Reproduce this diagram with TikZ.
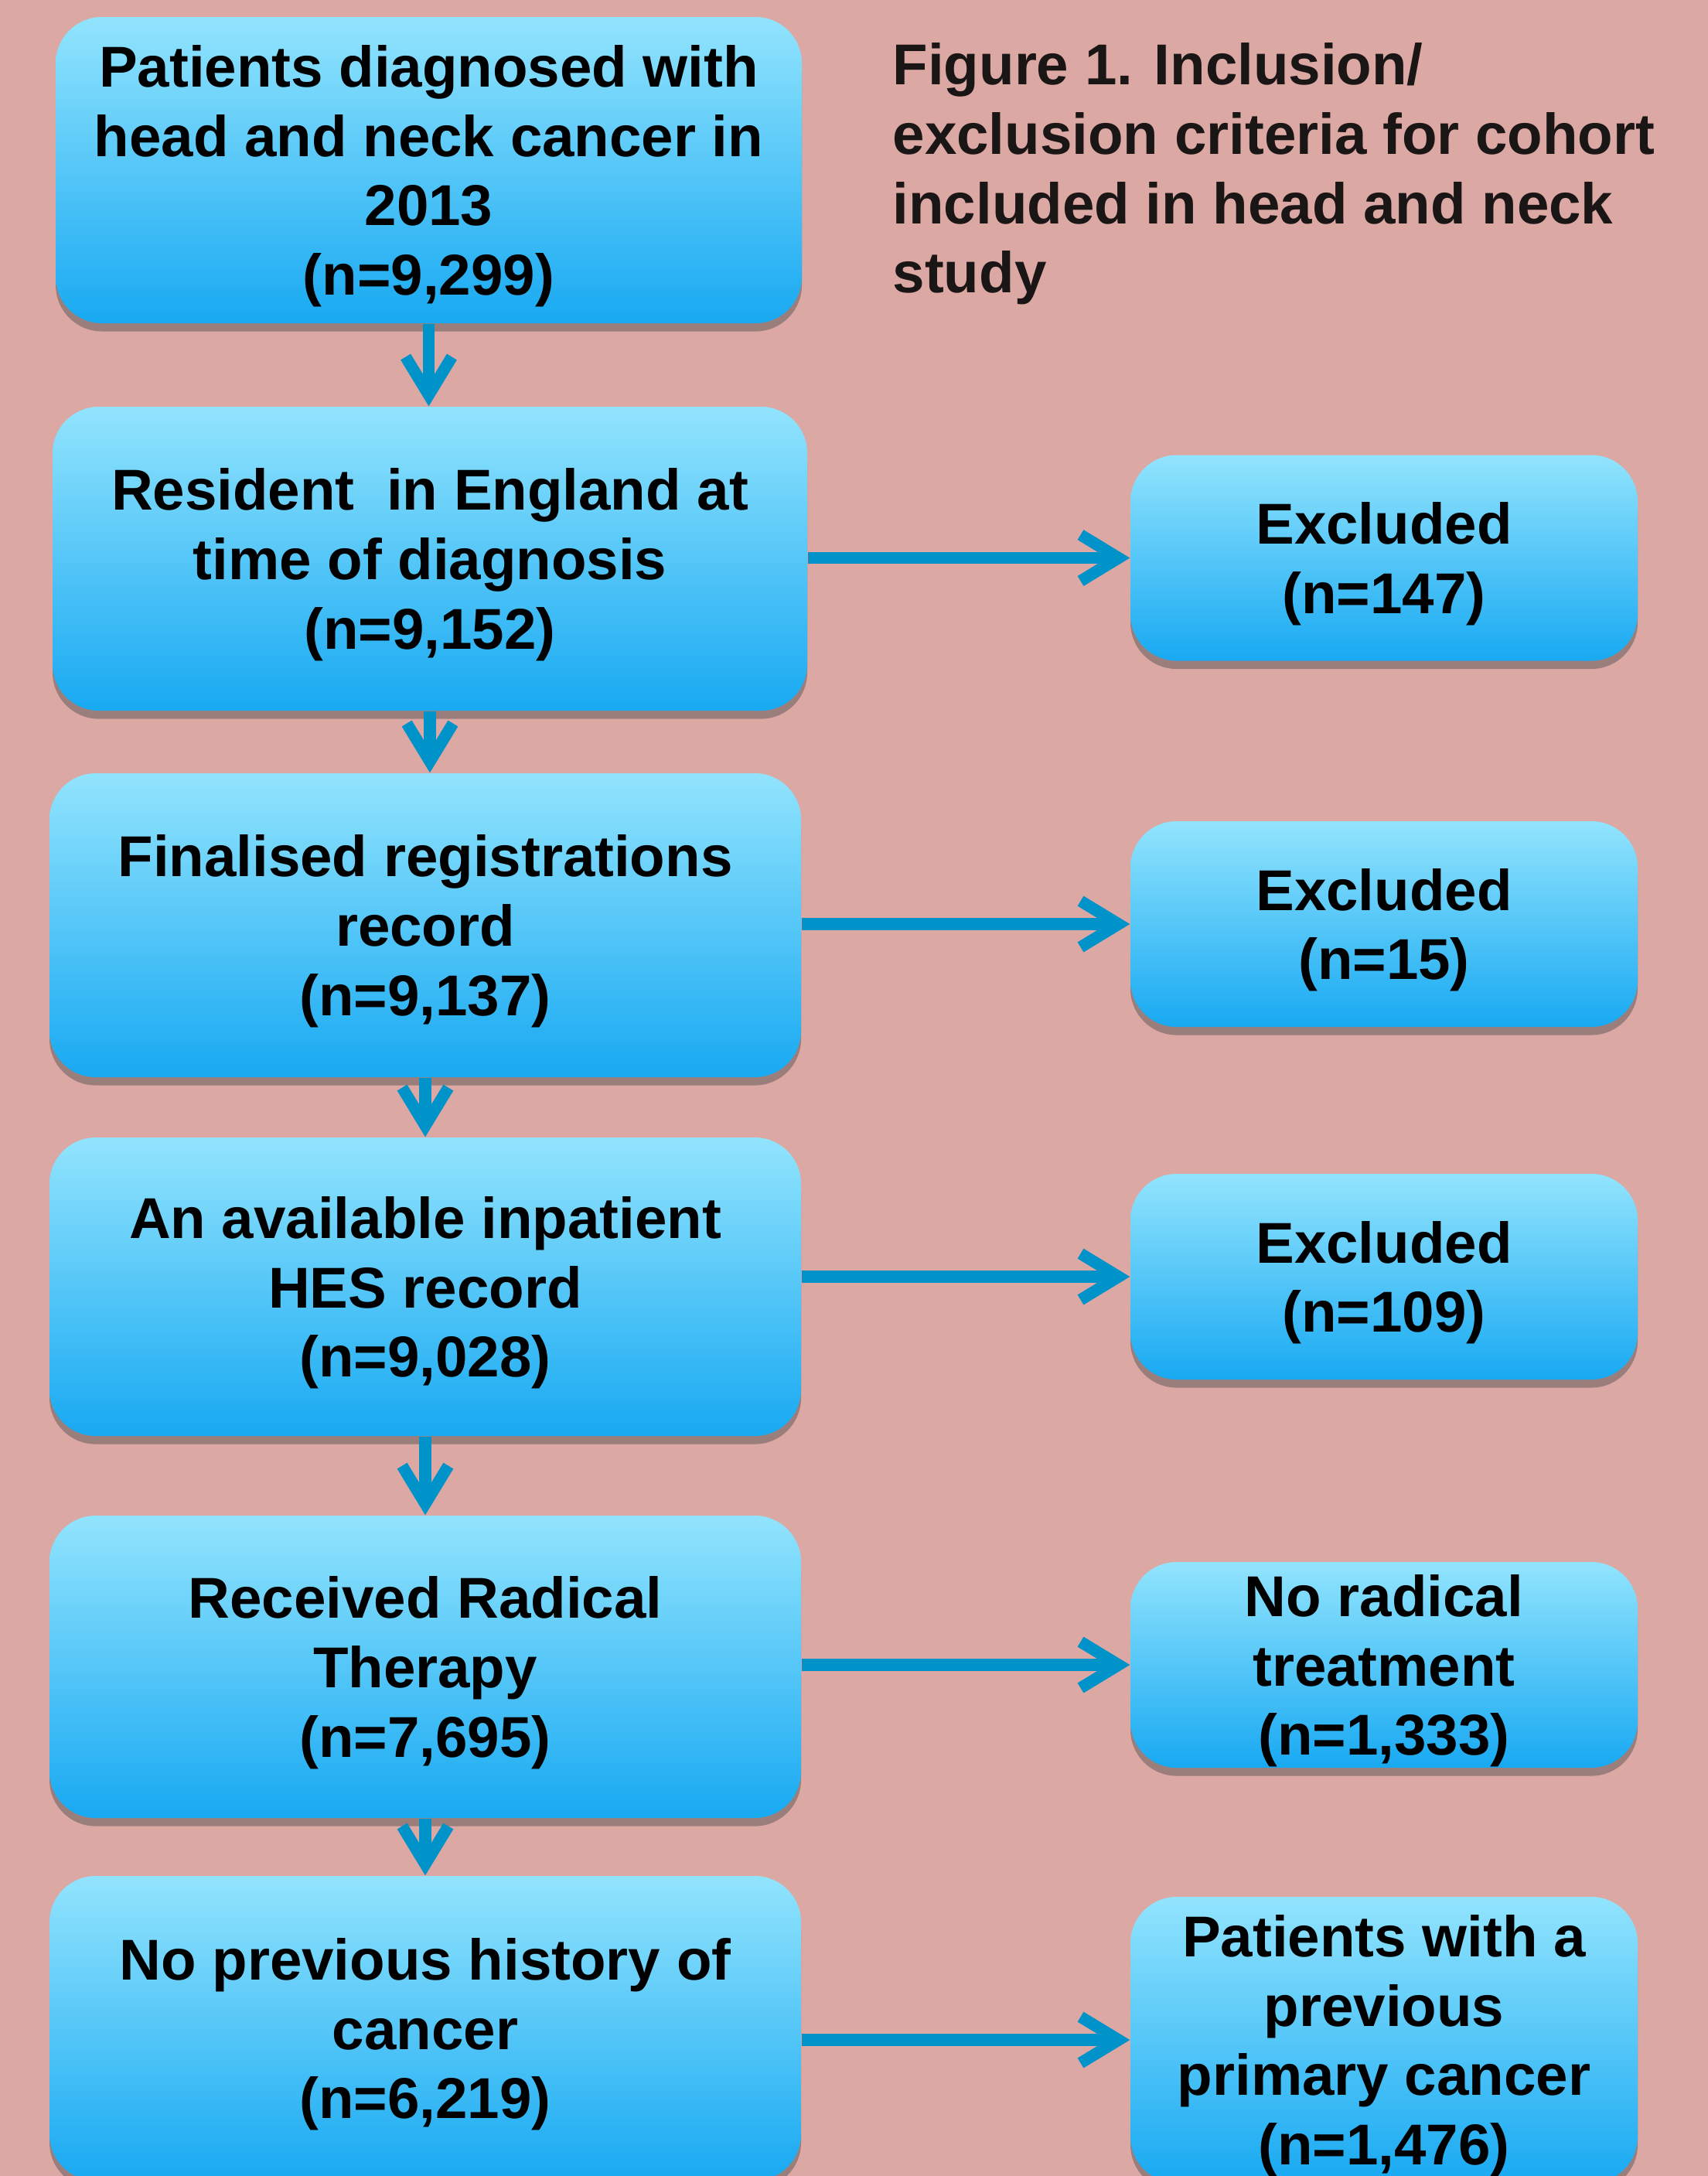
\documentclass[tikz,border=0pt]{standalone}
\usepackage{fontspec}
\setmainfont{Liberation Sans}
\usetikzlibrary{arrows.meta,shadows}
\definecolor{bgpink}{RGB}{219,168,164}
\definecolor{boxtop}{RGB}{146,228,253}
\definecolor{boxbot}{RGB}{24,169,242}
\definecolor{arrowblue}{RGB}{0,147,201}
\definecolor{titleink}{RGB}{26,22,22}

\begin{document}
\begin{tikzpicture}[
    stage/.style={rounded corners=17pt, top color=boxtop, bottom color=boxbot,
      drop shadow={shadow xshift=0pt, shadow yshift=-3pt, opacity=.45, fill=black!70},
      align=center, inner sep=0, text depth=0pt,
      font=\fontsize{21.2}{25.5}\selectfont\bfseries},
    main/.style={stage, minimum width=9.72cm, minimum height=3.93cm},
    side/.style={stage, minimum width=6.56cm, minimum height=2.66cm},
    flow/.style={arrowblue, line width=4.3pt, -{Straight Barb[length=14pt,width=17pt]}}
  ]
  \useasboundingbox (0,0) rectangle (22.09,-28.14);
  \fill[bgpink] (0,0) rectangle (22.09,-28.14);

  % inclusion steps
  \node[main, minimum width=9.65cm, minimum height=3.96cm] (diag) at (5.545,-2.20)
    {Patients diagnosed with\\head and neck cancer in\\2013\\(n=9,299)};
  \node[main, minimum width=9.76cm] (res) at (5.56,-7.225)
    {Resident~ in England at\\time of diagnosis\\(n=9,152)};
  \node[main] (reg) at (5.50,-11.965)
    {Finalised registrations\\record\\(n=9,137)};
  \node[main, minimum height=3.86cm] (hes) at (5.50,-16.64)
    {An available inpatient\\HES record\\(n=9,028)};
  \node[main, minimum height=3.91cm] (rad) at (5.50,-21.555)
    {Received Radical\\Therapy\\(n=7,695)};
  \node[main, minimum height=3.94cm] (prev) at (5.50,-26.23)
    {No previous history of\\cancer\\(n=6,219)};

  % exclusions
  \node[side] (exres) at (17.90,-7.215) {Excluded\\(n=147)};
  \node[side] (exreg) at (17.90,-11.95) {Excluded\\(n=15)};
  \node[side] (exhes) at (17.90,-16.51) {Excluded\\(n=109)};
  \node[side] (exrad) at (17.90,-21.53) {No radical\\treatment\\(n=1,333)};
  \node[side, minimum height=3.70cm] (exprev) at (17.90,-26.38)
    {Patients with a\\previous\\primary cancer\\(n=1,476)};

  \node[anchor=west, align=left, inner sep=0, text=titleink,
    font=\fontsize{21.2}{25.5}\selectfont\bfseries] (title) at (11.54,-2.25)
    {Figure 1. Inclusion/\\exclusion criteria for cohort\\included in head and neck\\study};

  \draw[flow] (diag.south) -- (diag.south |- res.north);
  \draw[flow] (res.south) -- (res.south |- reg.north);
  \draw[flow] (reg.south) -- (reg.south |- hes.north);
  \draw[flow] (hes.south) -- (hes.south |- rad.north);
  \draw[flow] (rad.south) -- (rad.south |- prev.north);

  \draw[flow] (res.east |- exres.west) -- (exres.west);
  \draw[flow] (reg.east |- exreg.west) -- (exreg.west);
  \draw[flow] (hes.east |- exhes.west) -- (exhes.west);
  \draw[flow] (rad.east |- exrad.west) -- (exrad.west);
  \draw[flow] (prev.east |- exprev.west) -- (exprev.west);
\end{tikzpicture}
\end{document}
